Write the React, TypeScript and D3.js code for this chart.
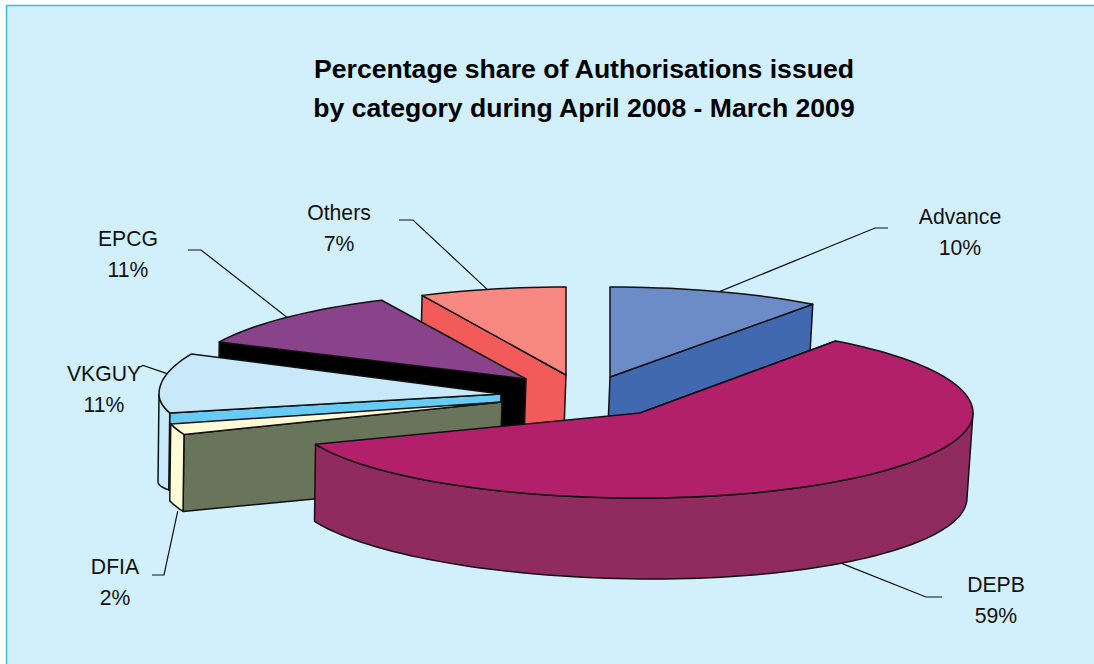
import React from "react";
import * as d3 from "d3";

// Share of authorisations per scheme, clockwise from twelve o'clock.
const categories = ["Advance", "DEPB", "DFIA", "VKGUY", "EPCG", "Others"];
const shares = [10, 59, 2, 11, 11, 7];
const titleLines = [
  "Percentage share of Authorisations issued",
  "by category during April 2008 - March 2009",
];

// Colours for each slice: top face, cut face, outer rim.
const topFills = ["#6C8CC7", "#B2206C", "#FFFBD6", "#C7E9F9", "#88438A", "#F78781"];
const cutFills = ["#4169B0", "#902B60", "#68755A", "#66CCF5", "#000000", "#F35B5B"];
const rimFills = ["#4169B0", "#902B60", "#FFFBD6", "#C7E9F9", "#000000", "#F35B5B"];

// Exploded position of each slice's tip and the radii of its projected ellipse.
const tipX = [610, 640, 502, 501, 526, 566];
const tipY = [377, 413, 402, 394, 379, 375];
const radiusLeft = [333, 349, 342, 342, 339, 338];
const radiusRight = [345, 333, 333, 333, 333, 333];
const radiusBack = [90, 89, 88, 94, 87, 88];
const radiusFront = [84, 85, 88, 76, 84, 84];
// Extra sag of the rim's lower edge where it reaches the far end of the arc.
const rimSag = [0, 0, 0, 11, 0, 0];

// Which slice edge shows its cut face: the clockwise end for Advance, the start otherwise.
const cutAtEnd = [true, false, false, false, false, false];
// Painter's order, back to front.
const paintOrder = [0, 5, 4, 3, 2, 1];

// Leader lines and label placement.
const leaderAtRim = [false, true, true, false, false, false];
const leaderNudgeX = [1, 3, 2, 8, 6, 0];
const leaderNudgeY = [1, 0, 5, -11, 4, 5];
const elbowAX = [875, 926, 164, 143, 201, 413];
const elbowAY = [228, 597, 575, 365.5, 250, 220];
const elbowBX = [888, 942, 152, 140, 188, 399];
const elbowBY = [228, 597, 575, 367, 250, 220];
const labelX = [960, 996, 115, 104, 128, 339];
const labelY = [216, 584, 566, 373, 238, 212];

const FONT = "'Liberation Sans', Arial, sans-serif";
const DEG = Math.PI / 180;

const arcs = d3.pie<number>().sort(null).startAngle(0).endAngle(2 * Math.PI)(shares);

// The extrusion grows and leans slightly toward the right of the page.
const depthAt = d3.scaleLinear().domain([315, 973]).range([77, 85]).clamp(true);
const leanAt = d3.scaleLinear().domain([315, 973]).range([-1, -6]).clamp(true);

function extrude([x, y]: [number, number], z: number): [number, number] {
  return [x + z * leanAt(x), y + z * depthAt(x)];
}

// Projects an angle on slice i's outer edge to the page, z runs from the top face downward.
function project(i: number, angle: number, z = 0): [number, number] {
  const s = Math.sin(angle);
  const c = Math.cos(angle);
  const rx = s < 0 ? radiusLeft[i] : radiusRight[i];
  const ry = c > 0 ? radiusBack[i] : radiusFront[i];
  return extrude([tipX[i] + s * rx, tipY[i] - c * ry], z);
}
const tip = (i: number, z = 0) => extrude([tipX[i], tipY[i]], z);

const line = d3.line();

function outerEdge(i: number, a0: number, a1: number, z = 0): [number, number][] {
  const steps = Math.max(2, Math.ceil((a1 - a0) / (2 * DEG)));
  return d3.range(steps + 1).map((k) => project(i, a0 + ((a1 - a0) * k) / steps, z));
}

function Slice({ i }: { i: number }) {
  const { startAngle: a0, endAngle: a1 } = arcs[i];
  const cutAngle = cutAtEnd[i] ? a1 : a0;
  const cut = [tip(i), project(i, cutAngle), project(i, cutAngle, 1), tip(i, 1)];
  // The rim is only seen on the near half of the ellipse.
  const r0 = Math.max(a0, 90 * DEG);
  const r1 = Math.min(a1, 270 * DEG);
  const lower = (pts: [number, number][]) =>
    pts.map(([x, y], k): [number, number] => [x, y + (rimSag[i] * k) / Math.max(1, pts.length - 1)]);
  const rim = r1 > r0 ? [...outerEdge(i, r0, r1), ...lower(outerEdge(i, r0, r1, 1)).reverse()] : null;
  const top = [tip(i), ...outerEdge(i, a0, a1)];
  const edge = { stroke: "#111", strokeWidth: 1.5, strokeLinejoin: "round" as const };
  return (
    <g>
      <path d={line(cut)! + "Z"} fill={cutFills[i]} {...edge} />
      {rim && <path d={line(rim)! + "Z"} fill={rimFills[i]} {...edge} />}
      <path d={line(top)! + "Z"} fill={topFills[i]} {...edge} />
    </g>
  );
}

function Leader({ i }: { i: number }) {
  const mid = (arcs[i].startAngle + arcs[i].endAngle) / 2;
  const [x, y] = project(i, mid, leaderAtRim[i] ? 1 : 0);
  const pts: [number, number][] = [
    [x + leaderNudgeX[i], y + leaderNudgeY[i]],
    [elbowAX[i], elbowAY[i]],
    [elbowBX[i], elbowBY[i]],
  ];
  const label = { textAnchor: "middle" as const, fontFamily: FONT, fontSize: 21.2, fill: "#111", dy: "0.38em" };
  return (
    <g>
      <path d={line(pts)!} fill="none" stroke="#111" strokeWidth={1.2} />
      <text x={labelX[i]} y={labelY[i]} {...label}>
        {categories[i]}
      </text>
      <text x={labelX[i]} y={labelY[i] + 31} {...label}>
        {shares[i]}%
      </text>
    </g>
  );
}

export default function App() {
  return (
    <svg
      width={1094}
      height={664}
      viewBox="0 0 1094 664"
      style={{ position: "absolute", left: 0, top: 0, display: "block" }}
    >
      <rect width={1094} height={664} fill="#fff" />
      <rect x={6.5} y={5.5} width={1100} height={670} fill="#D2EFFC" stroke="#37BBEB" strokeWidth={1.5} />
      {titleLines.map((t, k) => (
        <text
          key={t}
          x={584}
          y={69 + k * 39}
          dy="0.35em"
          textAnchor="middle"
          fontFamily={FONT}
          fontSize={26.6}
          fontWeight={700}
          fill="#000"
        >
          {t}
        </text>
      ))}
      {categories.map((c, i) => (
        <Leader key={c} i={i} />
      ))}
      {paintOrder.map((i) => (
        <Slice key={categories[i]} i={i} />
      ))}
    </svg>
  );
}
